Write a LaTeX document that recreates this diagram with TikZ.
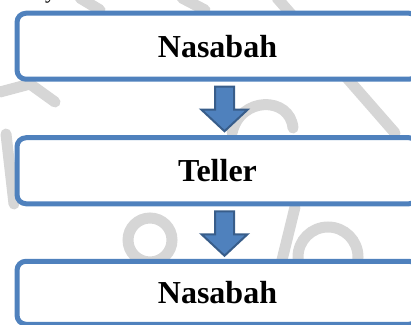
\documentclass[tikz,border=0pt]{standalone}
\usepackage{fontspec}
\setmainfont{Liberation Serif}
\usetikzlibrary{positioning}

\definecolor{boxblue}{RGB}{79,129,189}
\definecolor{arrowline}{RGB}{56,93,138}
\definecolor{wmgray}{RGB}{214,214,214}

\begin{document}
\begin{tikzpicture}[x=1pt, y=1pt,
    box style/.style={draw=boxblue, line width=5pt, fill=white, rounded corners=9pt,
        minimum width=401pt, minimum height=66pt, font=\fontsize{32}{36}\selectfont\bfseries},
    arrow style/.style={draw=arrowline, fill=boxblue, line width=2pt, line join=miter},
    mark style/.style={draw=wmgray, line width=11pt, line cap=round},]
    \useasboundingbox (0,0) rectangle (411,324);
    \clip (0,0) rectangle (411,324);

    \pgfmathsetmacro{\gap}{5}

    % faint background emblem
    \draw[style=mark style] (277,326) -- (395,191);
    \draw[style=mark style] (232,191) .. controls (240,228) and (290,228) .. (293,196);
    \draw[style=mark style] (328,67) circle (30);
    \draw[style=mark style] (150,84) circle (22);
    \draw[style=mark style] (282,64) -- (295,117);
    \draw[style=mark style] (0,232) -- (30,240) -- (55,222);
    \draw[style=mark style] (80,326) -- (100,314);
    \draw[style=mark style] (182,326) -- (205,314);
    \draw[style=mark style] (6,190) -- (14,120);

    % tail of the line above
    \node[anchor=base west, inner sep=0pt, font=\fontsize{22}{26}\selectfont] (ytail) at (45,325) {y};

    \node[style=box style] (nas1) at (217.5,277.75) {Nasabah};
    \node[style=box style, below=53.5pt of nas1] (tel) {Teller};
    \node[style=box style, minimum height=63pt, below=52.5pt of tel] (nas2) {Nasabah};

    \foreach \from in {nas1, tel}
        \draw[style=arrow style] (\from.south) ++(7-9.5,-\gap) -- ++(0,-23) -- ++(-13.5,0)
            -- ++(23,-21.5) -- ++(23,21.5) -- ++(-13.5,0) -- ++(0,23) -- cycle;

\end{tikzpicture}
\end{document}
